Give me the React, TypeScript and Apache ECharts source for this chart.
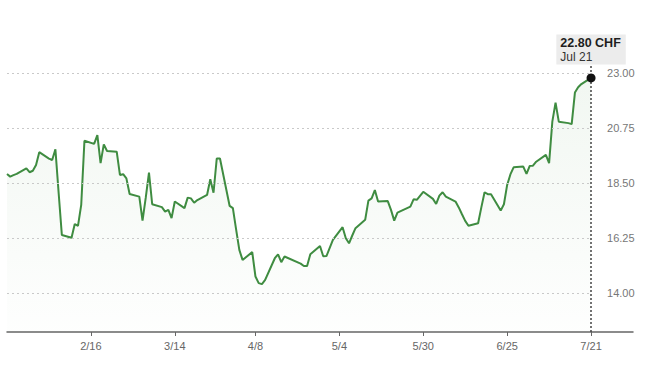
import { useEffect, useRef } from 'react';
import * as echarts from 'echarts';

const YEAR = 2025;
const AXIS_START = [1, 21]; // month, day
const AXIS_END = [8, 3];
const CURRENCY = 'CHF';

const DATES = [
  '1/21', '1/22', '1/23', '1/24', '1/27', '1/28', '1/29', '1/30', '1/31',
  '2/3', '2/4', '2/5', '2/6', '2/7', '2/10', '2/11', '2/12', '2/13', '2/14',
  '2/17', '2/18', '2/19', '2/20', '2/21', '2/24', '2/25', '2/26', '2/27', '2/28',
  '3/3', '3/4', '3/5', '3/6', '3/7', '3/10', '3/11', '3/12', '3/13', '3/14',
  '3/17', '3/18', '3/19', '3/20', '3/21', '3/24', '3/25', '3/26', '3/27', '3/28',
  '3/31', '4/1', '4/2', '4/3', '4/4', '4/7', '4/8', '4/9', '4/10', '4/11',
  '4/14', '4/15', '4/16', '4/17', '4/22', '4/23', '4/24', '4/25',
  '4/28', '4/29', '4/30', '5/2', '5/5', '5/6', '5/7', '5/8', '5/9',
  '5/12', '5/13', '5/14', '5/15', '5/16', '5/19', '5/20', '5/21', '5/22', '5/23',
  '5/26', '5/27', '5/28', '5/30', '6/2', '6/3', '6/4', '6/5', '6/6',
  '6/9', '6/10', '6/11', '6/12', '6/13', '6/16', '6/17', '6/18', '6/19', '6/20',
  '6/23', '6/24', '6/25', '6/26', '6/27', '6/30', '7/1', '7/2', '7/3', '7/4',
  '7/7', '7/8', '7/9', '7/10', '7/11', '7/14', '7/15', '7/16', '7/17', '7/18', '7/21',
];

const PRICES = [
  18.87, 18.76, 18.82, 18.87, 19.1, 18.94, 19.0, 19.24, 19.76,
  19.5, 19.44, 19.88, 18.1, 16.37, 16.26, 16.82, 16.74, 17.6, 20.23,
  20.1, 20.46, 19.31, 20.08, 19.81, 19.78, 18.83, 18.86, 18.69, 18.05,
  17.94, 16.96, 17.9, 18.92, 17.63, 17.51, 17.33, 17.4, 17.06, 17.74,
  17.47, 17.9, 17.87, 17.69, 17.8, 18.01, 18.65, 18.1, 19.5, 19.5,
  17.56, 17.47, 16.6, 15.76, 15.35, 15.67, 14.67, 14.4, 14.36, 14.53,
  15.42, 15.58, 15.26, 15.49, 15.2, 15.1, 15.1, 15.58,
  15.92, 15.5, 15.51, 16.17, 16.69, 16.24, 16.03, 16.35, 16.65,
  16.99, 17.78, 17.87, 18.21, 17.74, 17.76, 17.4, 16.96, 17.29, 17.35,
  17.53, 17.83, 17.81, 18.14, 17.85, 17.64, 17.98, 18.12, 17.94,
  17.74, 17.5, 17.22, 16.95, 16.75, 16.85, 17.5, 18.12, 18.04, 18.04,
  17.37, 17.63, 18.42, 18.85, 19.14, 19.17, 18.87, 19.2, 19.21, 19.37,
  19.65, 19.31, 21.01, 21.79, 21.01, 20.95, 20.91, 22.2, 22.42, 22.55, 22.8,
];

const X_TICK_LABELS = ['2/16', '3/14', '4/8', '5/4', '5/30', '6/25', '7/21'];
const Y_TICKS = [14, 16.25, 18.5, 20.75, 23];
const Y_MIN = 12.4;
const Y_MAX = 23.37;
const MONTHS = ['Jan', 'Feb', 'Mar', 'Apr', 'May', 'Jun', 'Jul', 'Aug', 'Sep', 'Oct', 'Nov', 'Dec'];

function buildCalendar(): string[] {
  const out: string[] = [];
  const start = Date.UTC(YEAR, AXIS_START[0] - 1, AXIS_START[1]);
  const end = Date.UTC(YEAR, AXIS_END[0] - 1, AXIS_END[1]);
  for (let t = start; t <= end; t += 86400000) {
    const d = new Date(t);
    out.push(`${d.getUTCMonth() + 1}/${d.getUTCDate()}`);
  }
  return out;
}

const GREEN = '#3f8c41';
const FONT = '"Liberation Sans", Arial, Helvetica, sans-serif';

export default function App() {
  const ref = useRef<HTMLDivElement>(null);

  useEffect(() => {
    if (!ref.current) return;
    const chart = echarts.init(ref.current, undefined, { renderer: 'svg' });
    const categories = buildCalendar();
    const firstIdx = categories.indexOf(DATES[0]);
    const lastDate = DATES[DATES.length - 1];
    const lastIdx = categories.indexOf(lastDate);
    const lastPrice = PRICES[PRICES.length - 1];
    const [lm, ld] = lastDate.split('/').map(Number);
    const lastLabel = `${MONTHS[lm - 1]} ${ld}`;

    const gridLines = Y_TICKS.map((v) => [
      {
        coord: [firstIdx, v],
        name: v.toFixed(2),
        lineStyle: { color: '#c9c9c9', width: 1, type: [2, 3] },
        label: {
          show: true,
          position: 'end',
          distance: 16,
          formatter: v.toFixed(2),
          color: '#777',
          fontSize: 11,
          fontFamily: FONT,
        },
      },
      { coord: [lastIdx, v] },
    ]);

    const option: any = {
      animation: false,
      backgroundColor: '#ffffff',
      textStyle: { fontFamily: FONT },
      grid: { left: 7, right: 17, top: 64, bottom: 41, containLabel: false },
      xAxis: {
        type: 'category',
        data: categories,
        boundaryGap: false,
        axisLine: { show: true, lineStyle: { color: '#666', width: 1.5 } },
        axisTick: {
          show: true,
          length: 4,
          interval: (_i: number, v: string) => X_TICK_LABELS.includes(v),
          lineStyle: { color: '#666', width: 1 },
        },
        axisLabel: {
          interval: (_i: number, v: string) => X_TICK_LABELS.includes(v),
          color: '#666',
          fontSize: 11,
          margin: 8,
          fontFamily: FONT,
        },
        splitLine: { show: false },
      },
      yAxis: {
        type: 'value',
        position: 'right',
        min: Y_MIN,
        max: Y_MAX,
        axisLine: { show: false },
        axisTick: { show: false },
        axisLabel: { show: false },
        splitLine: { show: false },
      },
      series: [
        {
          type: 'line',
          data: DATES.map((d, i) => [categories.indexOf(d), PRICES[i]]),
          showSymbol: false,
          symbol: 'none',
          lineStyle: { color: GREEN, width: 2 },
          areaStyle: {
            origin: 'start',
            color: new echarts.graphic.LinearGradient(0, 0, 0, 1, [
              { offset: 0, color: 'rgba(63,140,65,0.10)' },
              { offset: 1, color: 'rgba(63,140,65,0.01)' },
            ]),
          },
          markLine: {
            silent: true,
            symbol: ['none', 'none'],
            animation: false,
            data: [
              ...gridLines,
              {
                xAxis: lastIdx,
                lineStyle: { color: '#444', width: 1.5, type: [2, 2] },
                label: { show: false },
              },
            ],
          },
          markPoint: {
            silent: true,
            animation: false,
            data: [
              {
                coord: [lastIdx, lastPrice],
                value: lastPrice,
                symbol: 'circle',
                symbolSize: 9,
                itemStyle: { color: '#111' },
                label: {
                  show: true,
                  position: 'top',
                  distance: 9,
                  align: 'center',
                  backgroundColor: '#ececec',
                  padding: [2, 5, 1, 4],
                  formatter: `{a|${lastPrice.toFixed(2)} ${CURRENCY}}\n{b|${lastLabel}}`,
                  rich: {
                    a: { fontWeight: 'bold', fontSize: 12.5, color: '#1e1e1e', lineHeight: 14, align: 'left', fontFamily: FONT },
                    b: { fontSize: 12, color: '#333', lineHeight: 13, align: 'left', fontFamily: FONT },
                  },
                },
              },
            ],
          },
        },
      ],
    };

    chart.setOption(option);
    return () => chart.dispose();
  }, []);

  return (
    <div
      ref={ref}
      style={{ position: 'fixed', left: 0, top: 0, width: 650, height: 373, background: '#fff' }}
    />
  );
}
